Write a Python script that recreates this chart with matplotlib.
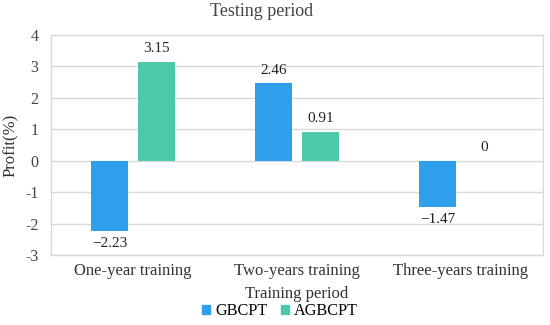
import matplotlib
matplotlib.use("Agg")
import matplotlib.pyplot as plt
import numpy as np
from matplotlib.patches import Patch

# data
categories = ["One-year training", "Two-years training", "Three-years training"]
gbcpt = [-2.23, 2.46, -1.47]
agbcpt = [3.15, 0.91, 0.0]
series_names = ["GBCPT", "AGBCPT"]
yticks = [-3, -2, -1, 0, 1, 2, 3, 4]

BLUE = "#2E9FEB"
GREEN = "#4CC9A8"
GRID = "#D9D9D9"

plt.rcParams["font.family"] = ["Liberation Serif", "DejaVu Serif"]

fig = plt.figure(figsize=(5.5, 3.25), dpi=100)
ax = fig.add_axes([51 / 550, 1 - 255 / 325, 492 / 550, 220 / 325])

x = np.arange(len(categories))
off, w = 0.142, 0.225
b1 = ax.bar(x - off, gbcpt, w, color=BLUE, zorder=3)
b2 = ax.bar(x + off, agbcpt, w, color=GREEN, zorder=3)

# value labels
for bars, vals in ((b1, gbcpt), (b2, agbcpt)):
    for r, v in zip(bars, vals):
        cx = r.get_x() + r.get_width() / 2
        txt = f"{v:.2f}".replace("-", "\u2212") if v != 0 else "0"
        dy = 9.5 if v >= 0 else -9
        ax.annotate(txt, (cx, v), xytext=(0, dy), textcoords="offset points",
                    ha="center", va="center", fontsize=11, color="#222222")

ax.set_xlim(-0.5, 2.5)
ax.set_ylim(-3, 4)
ax.set_yticks(yticks)
ax.set_yticklabels([str(t) for t in yticks], fontsize=11.5, color="#444444")
ax.set_xticks(x)
ax.set_xticklabels(categories, fontsize=12, color="#333333")
ax.tick_params(axis="y", length=0, pad=9)
ax.tick_params(axis="x", length=0, pad=6)
ax.grid(axis="y", color=GRID, lw=1, zorder=0)
for s in ax.spines.values():
    s.set_color(GRID)
    s.set_linewidth(1)

ax.set_ylabel("Profit(%)", fontsize=12, color="#333333")
ax.yaxis.set_label_coords(-0.066, 0.5)
ax.set_xlabel("Training period", fontsize=12, color="#333333", labelpad=5)

fig.text(262 / 550, 1 - 12 / 325, "Testing period", ha="center", va="center",
         fontsize=13, color="#444444")

handles = [Patch(color=BLUE), Patch(color=GREEN)]
fig.legend(handles, series_names, loc="center", bbox_to_anchor=(280 / 550, 1 - 311 / 325),
           ncol=2, frameon=False, fontsize=11.7, handlelength=0.5, handleheight=0.5,
           handletextpad=0.3, columnspacing=0.8, borderpad=0, borderaxespad=0)

fig.savefig("out.png", dpi=100)
